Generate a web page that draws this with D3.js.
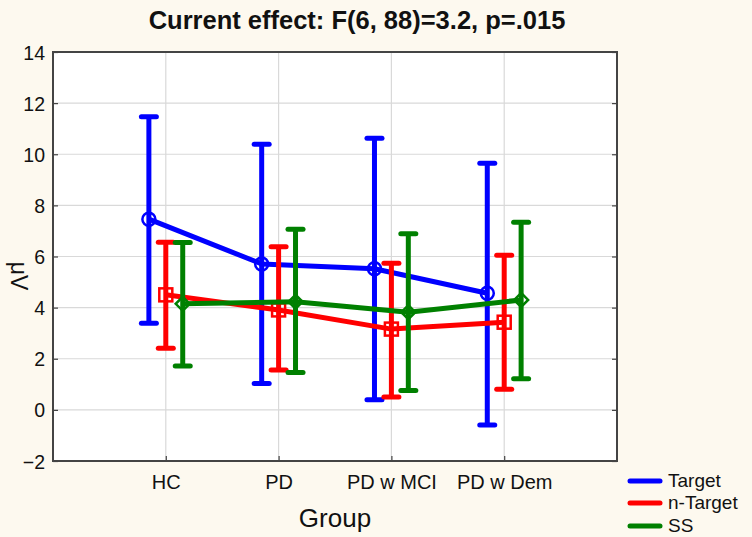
<!DOCTYPE html>
<html>
<head>
<meta charset="utf-8">
<script src="https://cdn.jsdelivr.net/npm/d3@7/dist/d3.min.js"></script>
<style>
html,body{margin:0;padding:0;background:#fdf9ef;}
svg{display:block;}
text{font-family:"Liberation Sans",Arial,sans-serif;fill:#111;}
</style>
</head>
<body>
<svg id="chart" width="752" height="537"></svg>
<script>
const categories = ["HC", "PD", "PD w MCI", "PD w Dem"];
const seriesNames = ["Target", "n-Target", "SS"];
const targetMean  = [7.46, 5.71, 5.52, 4.56];
const targetUpper = [11.47, 10.39, 10.63, 9.65];
const targetLower = [3.39, 1.03, 0.40, -0.59];
const nTargetMean  = [4.50, 3.91, 3.16, 3.43];
const nTargetUpper = [6.56, 6.38, 5.74, 6.05];
const nTargetLower = [2.41, 1.56, 0.50, 0.81];
const ssMean  = [4.15, 4.23, 3.82, 4.30];
const ssUpper = [6.55, 7.07, 6.89, 7.34];
const ssLower = [1.72, 1.46, 0.76, 1.22];
const yTicks = [-2, 0, 2, 4, 6, 8, 10, 12, 14];
const titleText = "Current effect: F(6, 88)=3.2, p=.015";
const xTitle = "Group";
const yTitle = "μV";

const series = [
  {name: seriesNames[0], mean: targetMean, upper: targetUpper, lower: targetLower, color: "#0000ff", marker: "circle", offset: -0.15},
  {name: seriesNames[1], mean: nTargetMean, upper: nTargetUpper, lower: nTargetLower, color: "#ff0000", marker: "square", offset: 0},
  {name: seriesNames[2], mean: ssMean, upper: ssUpper, lower: ssLower, color: "#008000", marker: "diamond", offset: 0.15}
];

const svg = d3.select("#chart");
const L = 53, R = 617, T = 52, B = 461;
const x = d3.scaleLinear().domain([0, categories.length + 1]).range([L, R]);
const y = d3.scaleLinear().domain([-2, 14]).range([B, T]);

// plot background
svg.append("rect").attr("x", L).attr("y", T).attr("width", R - L).attr("height", B - T).attr("fill", "#fff");

// grid
const grid = svg.append("g").attr("stroke", "#d9d9d9").attr("stroke-width", 1.2);
yTicks.forEach(v => grid.append("line").attr("x1", L).attr("x2", R).attr("y1", y(v)).attr("y2", y(v)));
categories.forEach((c, i) => grid.append("line").attr("x1", x(i + 1)).attr("x2", x(i + 1)).attr("y1", T).attr("y2", B));

// axes
const axisColor = "#444";
const yAxis = svg.append("g").attr("transform", `translate(${L},0)`)
  .call(d3.axisLeft(y).tickValues(yTicks).tickSize(-5).tickPadding(8).tickFormat(d3.format("d")));
yAxis.selectAll("text").attr("font-size", 19.5).style("font-family", "Liberation Sans, Arial, sans-serif").attr("fill", "#111").attr("dy", "0.36em");
const yAxisR = svg.append("g").attr("transform", `translate(${R},0)`)
  .call(d3.axisRight(y).tickValues(yTicks).tickSize(-5).tickFormat(""));
const xAxis = svg.append("g").attr("transform", `translate(0,${B})`)
  .call(d3.axisBottom(x).tickValues(categories.map((c, i) => i + 1)).tickSize(-5).tickPadding(14)
    .tickFormat((d) => categories[d - 1]));
xAxis.selectAll("text").attr("font-size", 20).style("font-family", "Liberation Sans, Arial, sans-serif").attr("fill", "#111");
[yAxis, yAxisR, xAxis].forEach(g => {
  g.select(".domain").remove();
  g.selectAll(".tick line").attr("stroke", axisColor).attr("stroke-width", 1.2);
});
svg.append("rect").attr("x", L).attr("y", T).attr("width", R - L).attr("height", B - T)
  .attr("fill", "none").attr("stroke", axisColor).attr("stroke-width", 2);

// series
const plot = svg.append("g");
series.forEach(s => {
  const g = plot.append("g");
  const px = (i) => x(i + 1 + s.offset);
  // error bars
  s.mean.forEach((m, i) => {
    g.append("line").attr("x1", px(i)).attr("x2", px(i)).attr("y1", y(s.upper[i])).attr("y2", y(s.lower[i]))
      .attr("stroke", s.color).attr("stroke-width", 5);
    [s.upper[i], s.lower[i]].forEach(v => g.append("line")
      .attr("x1", px(i) - 7.5).attr("x2", px(i) + 7.5).attr("y1", y(v)).attr("y2", y(v))
      .attr("stroke", s.color).attr("stroke-width", 5).attr("stroke-linecap", "round"));
  });
  // line
  g.append("path").datum(s.mean)
    .attr("d", d3.line().x((d, i) => px(i)).y(d => y(d)))
    .attr("fill", "none").attr("stroke", s.color).attr("stroke-width", 5).attr("stroke-linejoin", "round");
  // markers
  s.mean.forEach((m, i) => {
    const cx = px(i), cy = y(m);
    let mk;
    if (s.marker === "circle") {
      mk = g.append("circle").attr("cx", cx).attr("cy", cy).attr("r", 6.5);
    } else if (s.marker === "square") {
      mk = g.append("rect").attr("x", cx - 6.5).attr("y", cy - 6.5).attr("width", 13).attr("height", 13);
    } else {
      mk = g.append("path").attr("d", `M${cx},${cy - 7}L${cx + 7},${cy}L${cx},${cy + 7}L${cx - 7},${cy}Z`);
    }
    mk.attr("fill", "none").attr("stroke", s.color).attr("stroke-width", 2.5);
  });
});

// titles
svg.append("text").attr("x", 357).attr("y", 29).attr("text-anchor", "middle")
  .attr("font-size", 25.5).attr("font-weight", "bold").text(titleText);
svg.append("text").attr("x", (L + R) / 2).attr("y", 527).attr("text-anchor", "middle")
  .attr("font-size", 26).text(xTitle);
svg.append("text").attr("transform", "translate(11,276) rotate(90)").attr("text-anchor", "middle")
  .attr("font-size", 23).text(yTitle);

// legend
const leg = svg.append("g");
const legY = [481, 503, 526];
series.forEach((s, i) => {
  leg.append("line").attr("x1", 630).attr("x2", 660).attr("y1", legY[i]).attr("y2", legY[i])
    .attr("stroke", s.color).attr("stroke-width", 5).attr("stroke-linecap", "round");
  leg.append("text").attr("x", 668).attr("y", legY[i] + 6).attr("font-size", 19).text(s.name);
});
</script>
</body>
</html>
